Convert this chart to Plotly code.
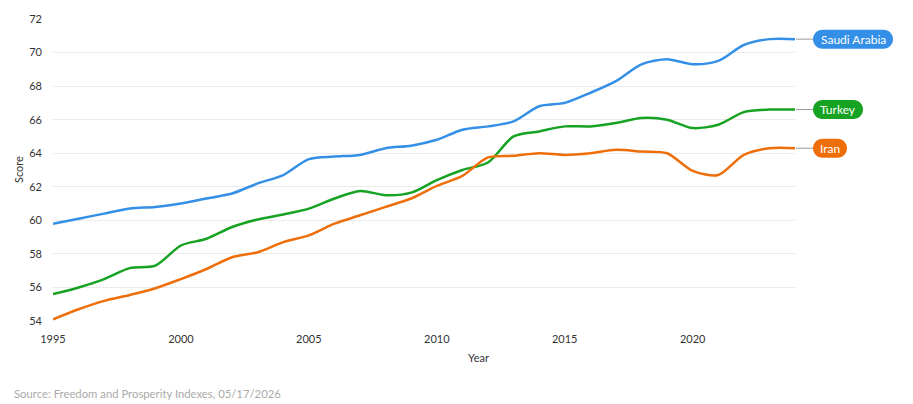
import plotly.graph_objects as go

years = list(range(1995, 2025))
saudi = [59.8, 60.1, 60.4, 60.7, 60.8, 61.0, 61.3, 61.6, 62.2, 62.7, 63.65, 63.8, 63.9, 64.3, 64.45, 64.8,
         65.4, 65.6, 65.9, 66.8, 67.0, 67.6, 68.3, 69.3, 69.6, 69.3, 69.5, 70.45, 70.8, 70.8]
turkey = [55.6, 56.0, 56.5, 57.15, 57.3, 58.5, 58.9, 59.6, 60.05, 60.35, 60.7, 61.3, 61.75, 61.5, 61.65, 62.4,
          63.0, 63.45, 65.0, 65.3, 65.6, 65.6, 65.8, 66.1, 66.0, 65.5, 65.7, 66.45, 66.6, 66.6]
iran = [54.1, 54.7, 55.2, 55.55, 55.95, 56.5, 57.1, 57.8, 58.1, 58.7, 59.1, 59.8, 60.3, 60.8, 61.3, 62.05,
        62.65, 63.75, 63.85, 64.0, 63.9, 64.0, 64.2, 64.1, 64.0, 62.95, 62.7, 63.9, 64.3, 64.3]
names = ["Saudi Arabia", "Turkey", "Iran"]
series = [saudi, turkey, iran]
colors = ["#3490e6", "#16a222", "#ee6e0a"]
pill_w = [80, 50, 34]
Y_MIN, Y_MAX = 54, 72

FONT = "Lato"
fig = go.Figure()
for n, s, c in zip(names, series, colors):
    fig.add_trace(go.Scatter(x=years, y=s, name=n, mode="lines",
                             line=dict(color=c, width=2.5, shape="spline", smoothing=0.8),
                             hoverinfo="skip"))

shapes = []
annotations = []
for n, s, c, w in zip(names, series, colors, pill_w):
    last = s[-1]
    yp = (last - Y_MIN) / (Y_MAX - Y_MIN)
    shapes.append(dict(type="line", xref="paper", yref="paper", xsizemode="pixel", xanchor=1,
                       x0=1, x1=18, y0=yp, y1=yp, line=dict(color="#9a9a9a", width=1)))
    r = 9.5
    k = 0.5523 * r
    x0, x1 = 18, 18 + w
    path = (f"M {x0+r},{-r} L {x1-r},{-r} "
            f"C {x1-r+k},{-r} {x1},{-k} {x1},0 C {x1},{k} {x1-r+k},{r} {x1-r},{r} "
            f"L {x0+r},{r} C {x0+r-k},{r} {x0},{k} {x0},0 C {x0},{-k} {x0+r-k},{-r} {x0+r},{-r} Z")
    shapes.append(dict(type="path", xref="paper", yref="paper", xsizemode="pixel", ysizemode="pixel",
                       xanchor=1, yanchor=yp, path=path, fillcolor=c, line=dict(width=0)))
    annotations.append(dict(x=1, y=yp, xref="paper", yref="paper", text=n, showarrow=False,
                            xanchor="center", yanchor="middle", xshift=18 + w / 2, yshift=0,
                            font=dict(family=FONT, size=12, color="white")))

annotations.append(dict(x=0.573, y=0, xref="paper", yref="paper", text="Year", showarrow=False,
                        yanchor="middle", yshift=-36, font=dict(family=FONT, size=11, color="#333")))
annotations.append(dict(x=0, y=0.5, xref="paper", yref="paper", text="Score", showarrow=False,
                        textangle=-90, xanchor="center", xshift=-35,
                        font=dict(family=FONT, size=11, color="#333")))
annotations.append(dict(x=0, y=0, xref="paper", yref="paper", text="Source: Freedom and Prosperity Indexes, 05/17/2026",
                        showarrow=False, xanchor="left", yanchor="middle", xshift=-41, yshift=-72,
                        font=dict(family=FONT, size=11.3, color="#aaaaaa")))

fig.update_layout(
    width=913, height=404,
    margin=dict(l=53, r=118, t=17, b=83),
    paper_bgcolor="white", plot_bgcolor="white",
    showlegend=False,
    font=dict(family=FONT, size=11, color="#333"),
    xaxis=dict(range=[1995, 2024], tickvals=[1995, 2000, 2005, 2010, 2015, 2020],
               showgrid=False, zeroline=False, showline=False, ticks="",
               ticklabelstandoff=10, tickfont=dict(size=11, color="#333")),
    yaxis=dict(range=[Y_MIN, Y_MAX], dtick=2, tick0=54, showgrid=True, gridcolor="#ebebeb", gridwidth=1,
               zeroline=False, showline=False, ticks="", ticklabelstandoff=10,
               tickfont=dict(size=11, color="#333")),
    shapes=shapes, annotations=annotations,
)
fig.write_html("out.html")
